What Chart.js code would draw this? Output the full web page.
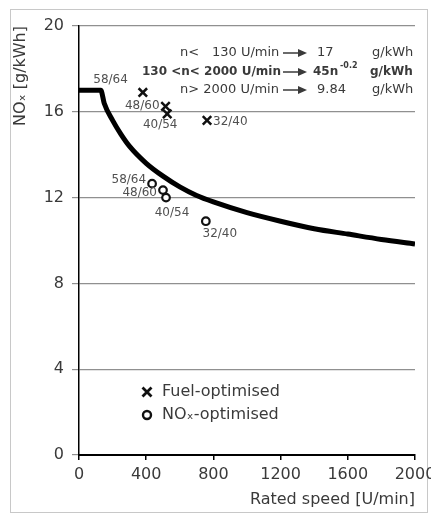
<!DOCTYPE html>
<html lang="en">
  <head>
    <meta charset="UTF-8" />
    <title>NOx limit vs rated speed</title>
    <script src="https://cdn.jsdelivr.net/npm/chart.js"></script>
    <style>
      html, body { margin: 0; padding: 0; background: #fff; }
      .chart-box { position: relative; width: 431px; height: 514px; }
    </style>
  </head>
  <body>
    <div class="chart-box">
      <canvas id="chart_nox"></canvas>
    </div>

    <script>
      // limit curve
      const limitSpeed = [0, 130, 150, 200, 250, 300, 400, 500, 600, 700, 800, 1000, 1200, 1400, 1600, 1800, 2000];
      const limitNox = [17, 17, 16.4, 15.6, 14.95, 14.4, 13.6, 13.0, 12.5, 12.1, 11.8, 11.3, 10.9, 10.55, 10.3, 10.05, 9.84];

      // engines
      const engines = ['58/64', '48/60', '40/54', '32/40'];
      const fuelSpeed = [380, 515, 525, 762];
      const fuelNox = [16.9, 16.25, 15.9, 15.6];
      const noxSpeed = [435, 500, 518, 755];
      const noxNox = [12.65, 12.35, 12.0, 10.9];

      const speedTicks = [0, 400, 800, 1200, 1600, 2000];
      const noxTicks = [0, 4, 8, 12, 16, 20];

      const FONT = 'DejaVu Sans';
      const TEXT = '#3a3a3a';

      // where the engine names sit next to each marker (px offsets)
      const labelPlace = {
        1: [
          { dx: -15, dy: -13, align: 'right' },
          { dx: -6, dy: -1, align: 'right' },
          { dx: -7, dy: 11, align: 'center' },
          { dx: 6, dy: 1, align: 'left' },
        ],
        2: [
          { dx: -6, dy: -4, align: 'right' },
          { dx: -6, dy: 3, align: 'right' },
          { dx: 6, dy: 15, align: 'center' },
          { dx: 14, dy: 13, align: 'center' },
        ],
      };

      function toPoints(xs, ys) {
        return xs.map((x, i) => ({ x: x, y: ys[i] }));
      }

      function drawCross(ctx, x, y, r) {
        ctx.beginPath();
        ctx.moveTo(x - r, y - r);
        ctx.lineTo(x + r, y + r);
        ctx.moveTo(x + r, y - r);
        ctx.lineTo(x - r, y + r);
        ctx.stroke();
      }

      function drawArrow(ctx, x, y) {
        ctx.beginPath();
        ctx.moveTo(x, y);
        ctx.lineTo(x + 17, y);
        ctx.stroke();
        ctx.beginPath();
        ctx.moveTo(x + 24, y);
        ctx.lineTo(x + 15, y - 4);
        ctx.lineTo(x + 15, y + 4);
        ctx.closePath();
        ctx.fill();
      }

      const extrasPlugin = {
        id: 'extras',
        beforeDraw(chart) {
          const ctx = chart.ctx;
          ctx.save();
          ctx.strokeStyle = '#c8c8c8';
          ctx.lineWidth = 1;
          ctx.strokeRect(10.5, 9.5, 417, 503);
          ctx.restore();
        },
        afterDraw(chart) {
          const ctx = chart.ctx;
          const area = chart.chartArea;
          ctx.save();

          // engine names beside the markers
          ctx.fillStyle = '#505050';
          ctx.font = '12px ' + FONT;
          ctx.textBaseline = 'middle';
          [1, 2].forEach((ds) => {
            chart.getDatasetMeta(ds).data.forEach((pt, i) => {
              const p = labelPlace[ds][i];
              ctx.textAlign = p.align;
              ctx.fillText(engines[i], pt.x + p.dx, pt.y + p.dy);
            });
          });

          // formula text, top right
          ctx.fillStyle = TEXT;
          ctx.strokeStyle = TEXT;
          ctx.lineWidth = 1.5;
          ctx.textAlign = 'left';
          ctx.font = '13px ' + FONT;
          ctx.fillText('n<', 180, 53);
          ctx.fillText('130 U/min', 212, 53);
          drawArrow(ctx, 283, 53);
          ctx.fillText('17', 317, 53);
          ctx.fillText('g/kWh', 372, 53);

          ctx.font = 'bold 12px ' + FONT;
          ctx.fillText('130 <n< 2000 U/min', 142, 72);
          drawArrow(ctx, 283, 72);
          ctx.fillText('45n', 313, 72);
          ctx.fillText('g/kWh', 370, 72);
          ctx.font = 'bold 8px ' + FONT;
          ctx.fillText('-0.2', 340, 66);

          ctx.font = '13px ' + FONT;
          ctx.fillText('n> 2000 U/min', 180, 90);
          drawArrow(ctx, 283, 90);
          ctx.fillText('9.84', 317, 90);
          ctx.fillText('g/kWh', 372, 90);

          // legend
          const lx = area.left + 68;
          const ly = area.bottom - 63;
          ctx.strokeStyle = '#111';
          ctx.lineWidth = 2.8;
          drawCross(ctx, lx, ly, 4.5);
          ctx.lineWidth = 2.4;
          ctx.beginPath();
          ctx.arc(lx, ly + 23, 4, 0, Math.PI * 2);
          ctx.stroke();
          ctx.fillStyle = TEXT;
          ctx.font = '16px ' + FONT;
          ctx.fillText('Fuel-optimised', lx + 15, ly);
          ctx.fillText('NOₓ-optimised', lx + 15, ly + 23);

          ctx.restore();
        },
      };

      new Chart(document.getElementById('chart_nox'), {
        type: 'scatter',
        data: {
          datasets: [
            {
              label: 'Limit',
              data: toPoints(limitSpeed, limitNox),
              showLine: true,
              borderColor: '#000',
              borderWidth: 5,
              pointRadius: 0,
              cubicInterpolationMode: 'monotone',
              borderJoinStyle: 'round',
            },
            {
              label: 'Fuel-optimised',
              data: toPoints(fuelSpeed, fuelNox),
              pointStyle: 'crossRot',
              pointRadius: 6,
              borderColor: '#111',
              borderWidth: 2.5,
            },
            {
              label: 'NOx-optimised',
              data: toPoints(noxSpeed, noxNox),
              pointStyle: 'circle',
              pointRadius: 3.8,
              backgroundColor: '#fff',
              borderColor: '#111',
              borderWidth: 2.2,
            },
          ],
        },
        options: {
          responsive: true,
          maintainAspectRatio: false,
          animation: false,
          layout: { padding: { left: 10, right: 16, top: 26, bottom: 4 } },
          plugins: {
            legend: { display: false },
            tooltip: { enabled: false },
          },
          scales: {
            x: {
              type: 'linear',
              min: speedTicks[0],
              max: speedTicks[speedTicks.length - 1],
              ticks: {
                stepSize: speedTicks[1] - speedTicks[0],
                callback: (v) => String(v),
                color: TEXT,
                font: { family: FONT, size: 16 },
                padding: 5,
                maxRotation: 0,
              },
              grid: { drawOnChartArea: false, color: '#000', lineWidth: 1.5, tickLength: 5 },
              border: { color: '#000', width: 2 },
              title: {
                display: true,
                text: 'Rated speed [U/min]',
                align: 'end',
                color: TEXT,
                font: { family: FONT, size: 16 },
                padding: { top: 0, bottom: 1 },
              },
              afterFit(scale) {
                scale.height = 55;
                scale.paddingLeft = 0;
                scale.paddingRight = 0;
              },
            },
            y: {
              min: noxTicks[0],
              max: noxTicks[noxTicks.length - 1],
              ticks: {
                stepSize: noxTicks[1] - noxTicks[0],
                color: TEXT,
                font: { family: FONT, size: 16 },
                padding: 8,
              },
              grid: { color: '#909090', lineWidth: 1.2, tickLength: 7 },
              border: { color: '#000', width: 1.5 },
              title: {
                display: true,
                text: 'NOₓ [g/kWh]',
                align: 'end',
                color: TEXT,
                font: { family: FONT, size: 16 },
                padding: { top: 1.5, bottom: 0 },
              },
              afterFit(scale) {
                scale.width = 69;
              },
            },
          },
        },
        plugins: [extrasPlugin],
      });
    </script>
  </body>
</html>
